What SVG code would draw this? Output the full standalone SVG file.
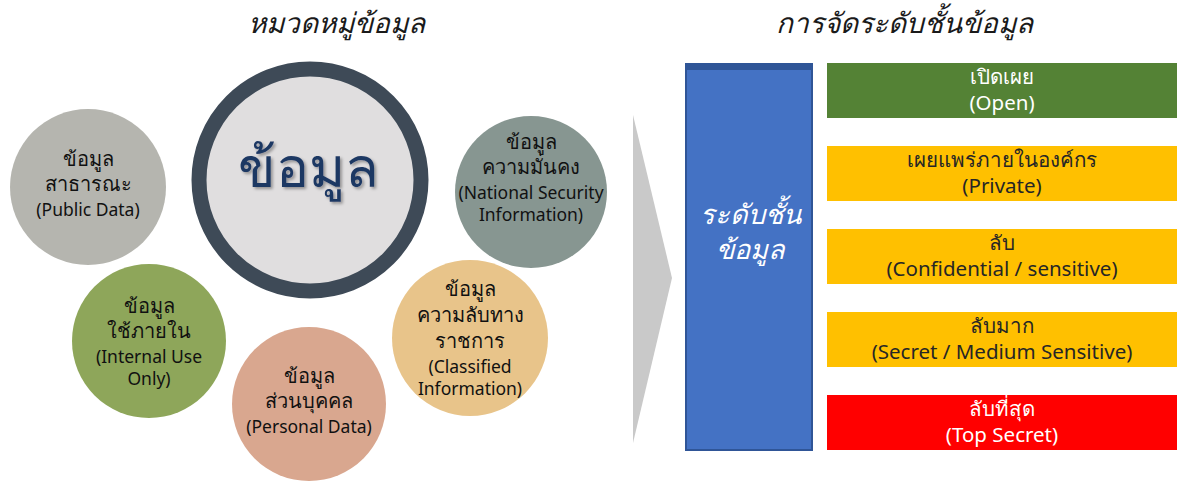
<svg xmlns="http://www.w3.org/2000/svg" width="1177" height="482" viewBox="0 0 1177 482">
<style>
text{font-family:"Noto Sans","DejaVu Sans","Liberation Sans",sans-serif;text-anchor:middle}
.title{font-size:28px;font-style:italic;fill:#1a1a1a}
.th{font-size:20px;fill:#111}
.en{font-size:17.5px;fill:#111}
.bt{font-size:20.5px;fill:#262626}
.bw{font-size:20.5px;fill:#fff}
</style>
<defs>
<filter id="sh" x="-10%" y="-10%" width="130%" height="140%">
<feDropShadow dx="2" dy="2" stdDeviation="1.5" flood-color="#000" flood-opacity="0.35"/>
</filter>
</defs>
<rect width="1177" height="482" fill="#fff"/>
<text class="title" x="336" y="33">หมวดหมู่ข้อมูล</text>
<text class="title" x="904" y="33">การจัดระดับชั้นข้อมูล</text>

<g id="center">
<circle cx="310" cy="180" r="111" fill="#E0DEDF" stroke="#3E4A57" stroke-width="15"/>
<text x="308" y="187" font-size="55" fill="#1F3864" filter="url(#sh)">ข้อมูล</text>
</g>
<g id="public">
<circle cx="88" cy="187" r="78" fill="#B5B5AF"/>
<text class="th" x="88" y="166">ข้อมูล</text>
<text class="th" x="88" y="191">สาธารณะ</text>
<text class="en" x="88" y="216">(Public Data)</text>
</g>
<g id="security">
<circle cx="531" cy="192" r="76" fill="#879691"/>
<text class="th" x="531" y="149" font-size="19">ข้อมูล</text>
<text class="th" x="531" y="174" font-size="19">ความมั่นคง</text>
<text class="en" x="531" y="199" font-size="16.5">(National Security</text>
<text class="en" x="531" y="221" font-size="16.5">Information)</text>
</g>
<g id="internal">
<circle cx="149" cy="341" r="77" fill="#8EA65A"/>
<text class="th" x="149" y="313">ข้อมูล</text>
<text class="th" x="149" y="338">ใช้ภายใน</text>
<text class="en" x="149" y="363">(Internal Use</text>
<text class="en" x="149" y="385">Only)</text>
</g>
<g id="personal">
<circle cx="309" cy="404" r="77" fill="#D9A78F"/>
<text class="th" x="309" y="383">ข้อมูล</text>
<text class="th" x="309" y="408">ส่วนบุคคล</text>
<text class="en" x="309" y="433">(Personal Data)</text>
</g>
<g id="classified">
<circle cx="470" cy="338" r="78" fill="#E8C48A"/>
<text class="th" x="470" y="296">ข้อมูล</text>
<text class="th" x="470" y="322">ความลับทาง</text>
<text class="th" x="470" y="348">ราชการ</text>
<text class="en" x="470" y="373">(Classified</text>
<text class="en" x="470" y="395">Information)</text>
</g>

<g id="connectors">
<polygon points="633,115 672,278 633,443" fill="#C9C9C9"/>
</g>

<g id="level">
<rect x="686" y="64" width="126" height="386" fill="#4472C4" stroke="#2F5597" stroke-width="2"/>
<rect x="686" y="63" width="126" height="7" fill="#2F5597"/>
<text x="750" y="224" font-size="27" font-style="italic" fill="#fff">ระดับชั้น</text>
<text x="750" y="259" font-size="27" font-style="italic" fill="#fff">ข้อมูล</text>
</g>
<g id="open">
<rect x="827" y="63" width="350" height="55" fill="#548235"/>
<text class="bw" x="1002" y="84">เปิดเผย</text>
<text class="bw" x="1002" y="110">(Open)</text>
</g>
<g id="private">
<rect x="827" y="146" width="350" height="55" fill="#FFC000"/>
<text class="bt" x="1002" y="167">เผยแพร่ภายในองค์กร</text>
<text class="bt" x="1002" y="193">(Private)</text>
</g>
<g id="confidential">
<rect x="827" y="229" width="350" height="55" fill="#FFC000"/>
<text class="bt" x="1002" y="250">ลับ</text>
<text class="bt" x="1002" y="276">(Confidential / sensitive)</text>
</g>
<g id="secret">
<rect x="827" y="312" width="350" height="55" fill="#FFC000"/>
<text class="bt" x="1002" y="333">ลับมาก</text>
<text class="bt" x="1002" y="359">(Secret / Medium Sensitive)</text>
</g>
<g id="topsecret">
<rect x="827" y="395" width="350" height="55" fill="#FF0000"/>
<text class="bw" x="1002" y="416">ลับที่สุด</text>
<text class="bw" x="1002" y="442">(Top Secret)</text>
</g>
</svg>
